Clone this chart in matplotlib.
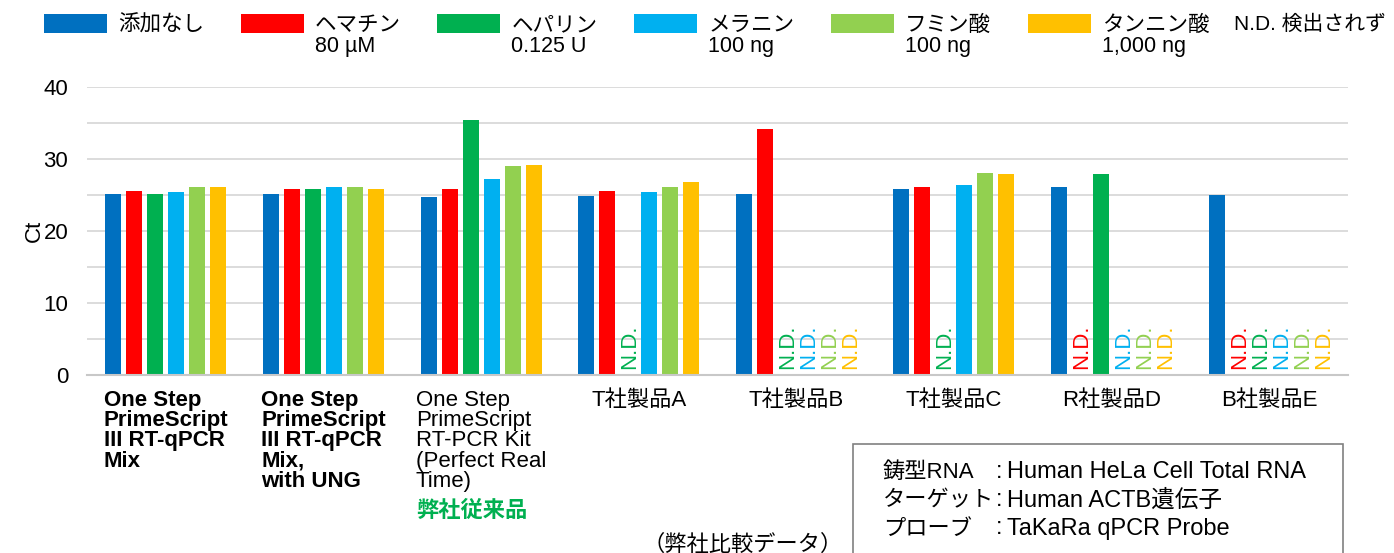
import matplotlib
matplotlib.use("Agg")
import matplotlib.pyplot as plt
from matplotlib.patches import Rectangle
from matplotlib.ticker import MultipleLocator
import numpy as np

plt.rcParams['font.family'] = ['Liberation Sans', 'Noto Sans CJK JP']

# ---------------- data ----------------
categories = [
    "One Step\nPrimeScript\nIII RT-qPCR\nMix",
    "One Step\nPrimeScript\nIII RT-qPCR\nMix,\nwith UNG",
    "One Step\nPrimeScript\nRT-PCR Kit\n(Perfect Real\nTime)",
    "T社製品A", "T社製品B", "T社製品C", "R社製品D", "B社製品E",
]
bold_categories = [True, True, False, False, False, False, False, False]
category_note = "弊社従来品"
category_note_index = 2

series_labels = ["添加なし", "ヘマチン\n80 µM", "ヘパリン\n0.125 U",
                 "メラニン\n100 ng", "フミン酸\n100 ng", "タンニン酸\n1,000 ng"]
series_colors = ["#0070C0", "#FF0000", "#00B050", "#00B0F0", "#92D050", "#FFC000"]

nan = np.nan
ct_none     = [25.2, 25.1, 24.8, 24.9, 25.2, 25.9, 26.1, 25.0]
ct_hematin  = [25.6, 25.8, 25.9, 25.6, 34.2, 26.2, nan,  nan]
ct_heparin  = [25.2, 25.9, 35.5, nan,  nan,  nan,  27.9, nan]
ct_melanin  = [25.5, 26.2, 27.3, 25.5, nan,  26.4, nan,  nan]
ct_humic    = [26.2, 26.2, 29.0, 26.2, nan,  28.05, nan, nan]
ct_tannic   = [26.1, 25.9, 29.2, 26.8, nan,  27.9, nan,  nan]
series_values = [ct_none, ct_hematin, ct_heparin, ct_melanin, ct_humic, ct_tannic]

nd_text = "N.D."
nd_legend = "N.D. 検出されず"
y_label = "Ct"
conditions = [("鋳型RNA", "Human HeLa Cell Total RNA"),
              ("ターゲット", "Human ACTB遺伝子"),
              ("プローブ", "TaKaRa qPCR Probe")]
footnote = "（弊社比較データ）"

# ---------------- layout ----------------
W, H = 1394, 553
fig = plt.figure(figsize=(W / 100, H / 100), dpi=100)

def fx(px):
    return px / W

def fy(py):
    return 1 - py / H

ax = fig.add_axes([fx(87), fy(375), fx(1348) - fx(87), fy(87.3) - fy(375)])

x = np.arange(len(categories))
step = 0.1333
width = 0.1015
n = len(series_values)
for i, (vals, col) in enumerate(zip(series_values, series_colors)):
    off = (i - (n - 1) / 2) * step
    v = np.array(vals, dtype=float)
    ax.bar(x + off, v, width=width, color=col, zorder=2, linewidth=0)
    for j, val in enumerate(v):
        if np.isnan(val):
            ax.annotate(nd_text, xy=(x[j] + off, 0), xytext=(1.2, 4.5),
                        textcoords="offset points", rotation=90,
                        ha="center", va="bottom", color=col, fontsize=16)

ax.set_xlim(-0.5, len(categories) - 0.5)
ax.set_ylim(0, 40)
ax.yaxis.set_major_locator(MultipleLocator(10))
ax.yaxis.set_minor_locator(MultipleLocator(5))
ax.grid(axis="y", which="both", color="#D9D9D9", linewidth=1.3, zorder=0)
ax.set_axisbelow(True)
for s in ["top", "right", "left"]:
    ax.spines[s].set_visible(False)
ax.spines["bottom"].set_color("#C8C8C8")
ax.spines["bottom"].set_linewidth(1.5)
ax.tick_params(axis="y", which="both", length=0, pad=13.5, labelsize=16)
ax.tick_params(axis="x", length=0, pad=10.5, labelsize=16)

ax.set_xticks(x)
ax.set_xticklabels(categories, multialignment="left", linespacing=0.96)
ticklabels = ax.get_xticklabels()
for lbl, b in zip(ticklabels, bold_categories):
    if b:
        lbl.set_fontweight("bold")
ax.annotate(category_note, xy=(0, 0), xycoords=ticklabels[category_note_index],
            xytext=(0, -6.5), textcoords="offset points", ha="left", va="top",
            color="#00B050", fontweight="bold", fontsize=16)

ax.set_ylabel(y_label, fontsize=16, labelpad=-1)

# ---------------- legend (manual, equal spacing) ----------------
leg_x0, leg_dx, leg_w = 43.75, 196.8, 63
leg_top, leg_bot = 14, 32.5
for i, (lab, col) in enumerate(zip(series_labels, series_colors)):
    xl = leg_x0 + i * leg_dx
    fig.patches.append(Rectangle((fx(xl), fy(leg_bot)), fx(leg_w), fy(leg_top) - fy(leg_bot),
                                 transform=fig.transFigure, facecolor=col, edgecolor="none"))
    fig.text(fx(xl + leg_w + 11), fy(15), lab, ha="left", va="top",
             fontsize=15.5, linespacing=0.98)
fig.text(fx(1234), fy(15), nd_legend, ha="left", va="top", fontsize=15)

# ---------------- conditions box ----------------
box_l, box_r, box_t = 853, 1343, 444
fig.patches.append(Rectangle((fx(box_l), -0.1), fx(box_r - box_l), fy(box_t) + 0.1,
                             transform=fig.transFigure, fill=False,
                             edgecolor="#808080", linewidth=1.2))
row_y = [478, 506.5, 534.5]
for (k, v), yy in zip(conditions, row_y):
    fig.text(fx(883), fy(yy), k, ha="left", va="baseline", fontsize=16)
    fig.text(fx(996), fy(yy), ":", ha="left", va="baseline", fontsize=17)
    fig.text(fx(1007), fy(yy), v, ha="left", va="baseline", fontsize=17)

fig.text(fx(642), fy(551), footnote, ha="left", va="baseline", fontsize=16)

fig.savefig("out.png", dpi=100)
